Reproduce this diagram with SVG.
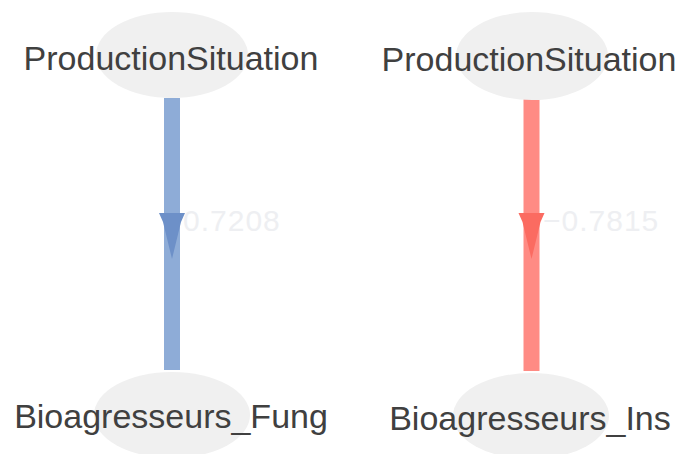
<svg xmlns="http://www.w3.org/2000/svg" width="682" height="454" viewBox="0 0 682 454">
  <style>
    .node ellipse { fill: #f0f0f0; }
    .node text { font-family: "Liberation Sans", Arial, sans-serif; font-size: 34px; fill: #404040; text-anchor: middle; }
    .elabel { font-family: "Liberation Sans", Arial, sans-serif; font-size: 30px; letter-spacing: 1px; fill: #eeeff2; }
    .neg { stroke: #8eacd7; stroke-width: 16; }
    .pos { stroke: #ff8b84; stroke-width: 16; }
  </style>
  <rect width="682" height="454" fill="#ffffff"/>
  <g id="connectors">
    <g id="edge-fung">
      <line class="neg" x1="172" y1="98" x2="172" y2="370"/>
      <polygon points="159,213 185,213 181,222 172,259 163,222" fill="#6d90c8"/>
      <text class="elabel" x="183" y="231">0.7208</text>
    </g>
    <g id="edge-ins">
      <line class="pos" x1="531.5" y1="98" x2="531.5" y2="371"/>
      <polygon points="518.5,213 544.5,213 540.5,222 531.5,259 522.5,222" fill="#fb6b61"/>
      <text class="elabel" x="543" y="231">−0.7815</text>
    </g>
  </g>
  <g id="node-ps1" class="node">
    <ellipse cx="172" cy="55" rx="76" ry="43"/>
    <text x="171" y="70">ProductionSituation</text>
  </g>
  <g id="node-ps2" class="node">
    <ellipse cx="532" cy="56" rx="76" ry="44"/>
    <text x="529" y="71">ProductionSituation</text>
  </g>
  <g id="node-fung" class="node">
    <ellipse cx="172" cy="415" rx="78" ry="43"/>
    <text x="171" y="428">Bioagresseurs_Fung</text>
  </g>
  <g id="node-ins" class="node">
    <ellipse cx="531" cy="416" rx="78" ry="43"/>
    <text x="530" y="430">Bioagresseurs_Ins</text>
  </g>
</svg>
